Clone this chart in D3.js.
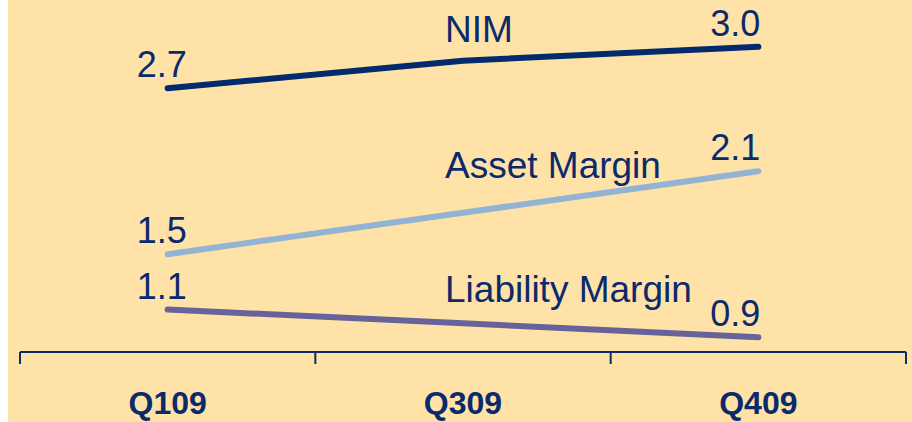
<!DOCTYPE html>
<html>
<head>
<meta charset="utf-8">
<script src="https://cdn.jsdelivr.net/npm/d3@7"></script>
<style>
  html, body { margin: 0; padding: 0; background: #ffffff; }
  svg { display: block; }
  text { font-family: Arial, "Liberation Sans", sans-serif; }
</style>
</head>
<body>
<svg id="chart" width="912" height="422"></svg>
<script>
// Quarters on the x axis
const quarters = ["Q109", "Q309", "Q409"];

// Margins (%) per quarter
const nim = [2.7, 2.9, 3.0];
const assetMargin = [1.5, 1.8, 2.1];
const liabilityMargin = [1.1, 1.0, 0.9];

const seriesNames = ["NIM", "Asset Margin", "Liability Margin"];

const W = 912, H = 422;
const svg = d3.select("#chart");

// Panel background
svg.append("rect")
  .attr("x", 8).attr("y", 0)
  .attr("width", W - 8).attr("height", H)
  .attr("fill", "#fee2a8");

const x = d3.scaleBand().domain(quarters).range([20, 906]).padding(0);
const y = d3.scaleLinear().domain([0.8, 3.1]).range([351, 33]);
const cx = q => x(q) + x.bandwidth() / 2;

const textColor = "#0a2a6c";

const series = [
  { name: seriesNames[0], values: nim, color: "#032a6e", nameDy: -19 },
  { name: seriesNames[1], values: assetMargin, color: "#93b3d5", nameDy: -35 },
  { name: seriesNames[2], values: liabilityMargin, color: "#67639a", nameDy: -21 }
];

const line = d3.line()
  .x((d, i) => cx(quarters[i]))
  .y(d => y(d));

const g = svg.append("g");

series.forEach(s => {
  g.append("path")
    .attr("d", line(s.values))
    .attr("fill", "none")
    .attr("stroke", s.color)
    .attr("stroke-width", 6)
    .attr("stroke-linecap", "round")
    .attr("stroke-linejoin", "round");

  const first = s.values[0];
  const last = s.values[s.values.length - 1];

  // start value, above the left end
  g.append("text")
    .attr("x", cx(quarters[0]) - 31)
    .attr("y", y(first) - 11)
    .attr("font-size", 36)
    .attr("fill", textColor)
    .text(d3.format(".1f")(first));

  // end value, above the right end
  g.append("text")
    .attr("x", cx(quarters[quarters.length - 1]) + 2)
    .attr("y", y(last) - 11)
    .attr("text-anchor", "end")
    .attr("font-size", 36)
    .attr("fill", textColor)
    .text(d3.format(".1f")(last));

  // series name near the middle quarter
  g.append("text")
    .attr("x", 445)
    .attr("y", y(s.values[1]) + s.nameDy)
    .attr("font-size", 37)
    .attr("fill", textColor)
    .text(s.name);
});

// Category axis: ticks sit on band boundaries, labels in band centres
const axisY = 352;
const axisG = svg.append("g");
axisG.append("line")
  .attr("x1", x.range()[0]).attr("x2", x.range()[1])
  .attr("y1", axisY).attr("y2", axisY)
  .attr("stroke", "#0d2b66").attr("stroke-width", 2);

const edges = quarters.map(q => x(q)).concat([x.range()[1]]);
axisG.selectAll("line.tick")
  .data(edges)
  .join("line")
  .attr("class", "tick")
  .attr("x1", d => d).attr("x2", d => d)
  .attr("y1", axisY).attr("y2", axisY + 12)
  .attr("stroke", "#0d2b66").attr("stroke-width", 2);

axisG.selectAll("text.qlabel")
  .data(quarters)
  .join("text")
  .attr("class", "qlabel")
  .attr("x", d => cx(d))
  .attr("y", 414)
  .attr("text-anchor", "middle")
  .attr("font-size", 32)
  .attr("font-weight", "bold")
  .attr("fill", textColor)
  .text(d => d);
</script>
</body>
</html>
